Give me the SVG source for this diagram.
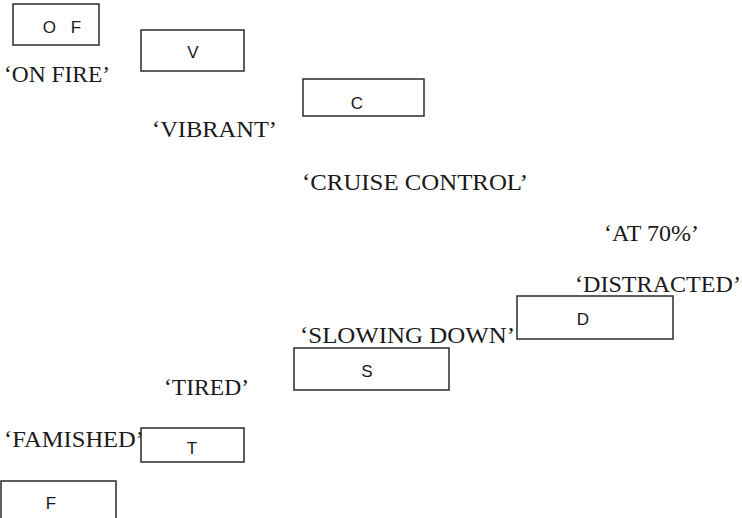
<svg xmlns="http://www.w3.org/2000/svg" width="742" height="518" viewBox="0 0 742 518">
<style>
.box{fill:none;stroke:#2b2b2b;stroke-width:1.5}
.lbl{font-family:"Liberation Serif","Times New Roman",serif;font-size:24px;fill:#1a1a1a}
.bt{font-family:"Liberation Sans",Arial,sans-serif;font-size:17px;fill:#1a1a1a;text-anchor:middle}
</style>
<rect width="742" height="518" fill="#fff"/>
<g id="labels">
<text class="lbl" x="4" y="82" textLength="106" lengthAdjust="spacingAndGlyphs">‘ON FIRE’</text>
<text class="lbl" x="152" y="137" textLength="125" lengthAdjust="spacingAndGlyphs">‘VIBRANT’</text>
<text class="lbl" x="302" y="190" textLength="226" lengthAdjust="spacingAndGlyphs">‘CRUISE CONTROL’</text>
<text class="lbl" x="604" y="241" textLength="95" lengthAdjust="spacingAndGlyphs">‘AT 70%’</text>
<text class="lbl" x="575" y="292" textLength="166" lengthAdjust="spacingAndGlyphs">‘DISTRACTED’</text>
<text class="lbl" x="300" y="343" textLength="215" lengthAdjust="spacingAndGlyphs">‘SLOWING DOWN’</text>
<text class="lbl" x="164" y="395" textLength="85" lengthAdjust="spacingAndGlyphs">‘TIRED’</text>
<text class="lbl" x="4" y="447" textLength="140" lengthAdjust="spacingAndGlyphs">‘FAMISHED’</text>
</g>
<g id="connectors"></g>
<g id="node-of"><rect class="box" x="13" y="4" width="86" height="41"/><text class="bt" x="62" y="33" style="word-spacing:10px">O F</text></g>
<g id="node-v"><rect class="box" x="141" y="30" width="103" height="41"/><text class="bt" x="193" y="58">V</text></g>
<g id="node-c"><rect class="box" x="303" y="79" width="121" height="37"/><text class="bt" x="357" y="109">C</text></g>
<g id="node-d"><rect class="box" x="517" y="296" width="156" height="43"/><text class="bt" x="583" y="325">D</text></g>
<g id="node-s"><rect class="box" x="294" y="348" width="155" height="42"/><text class="bt" x="367" y="377">S</text></g>
<g id="node-t"><rect class="box" x="141" y="428" width="103" height="34"/><text class="bt" x="192" y="454">T</text></g>
<g id="node-f"><rect class="box" x="1" y="481" width="115" height="40"/><text class="bt" x="51" y="509">F</text></g>
</svg>
